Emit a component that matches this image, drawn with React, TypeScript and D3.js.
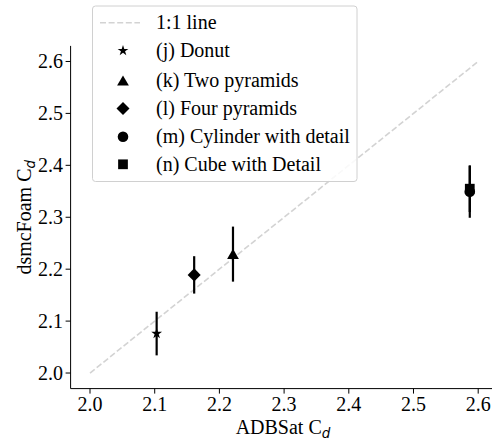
import React from "react";
import * as d3 from "d3";

// Drag coefficient comparison: ADBSat vs dsmcFoam
const labels = [
  "(j) Donut",
  "(k) Two pyramids",
  "(l) Four pyramids",
  "(m) Cylinder with detail",
  "(n) Cube with Detail",
];
const shapes = ["star", "triangle", "diamond", "circle", "square"];
const adbsatCd = [2.103, 2.221, 2.161, 2.587, 2.587];
const dsmcCd = [2.076, 2.229, 2.189, 2.349, 2.355];
const dsmcErr = [0.042, 0.053, 0.036, 0.05, 0.045];
const xTicks = [2.0, 2.1, 2.2, 2.3, 2.4, 2.5, 2.6];
const yTicks = [2.0, 2.1, 2.2, 2.3, 2.4, 2.5, 2.6];
const identity = [2.0, 2.6];

const W = 492;
const H = 443;
const FONT = "Liberation Serif, Times New Roman, DejaVu Serif, serif";
const FS = 20;

const x = d3.scaleLinear().domain([1.97, 2.63]).range([70.6, 497.6]);
const y = d3.scaleLinear().domain([1.97, 2.63]).range([388.6, 45.9]);

const symbolFor: Record<string, { type: d3.SymbolType; size: number }> = {
  star: { type: d3.symbolStar, size: 36 },
  triangle: { type: d3.symbolTriangle, size: 60 },
  diamond: { type: d3.symbolSquare, size: 85 },
  circle: { type: d3.symbolCircle, size: 88 },
  square: { type: d3.symbolSquare, size: 95 },
};

function Marker({ shape, cx, cy }: { shape: string; cx: number; cy: number }) {
  const s = symbolFor[shape];
  const path = d3.symbol().type(s.type).size(s.size)() || "";
  const rot = shape === "diamond" ? 45 : 0;
  const dy = shape === "triangle" ? 1.5 : 0;
  return (
    <path
      d={path}
      transform={`translate(${cx},${cy + dy}) rotate(${rot})`}
      fill="#000"
    />
  );
}

function Cd({ prefix }: { prefix: string }) {
  return (
    <>
      {prefix}C
      <tspan
        style={{ fontFamily: "DejaVu Sans, sans-serif", fontStyle: "italic", fontSize: 13.5 }}
        dy={4}
      >
        d
      </tspan>
    </>
  );
}

export default function App() {
  const axisBottom = y.range()[0];
  const axisLeft = x.range()[0];
  const legendRows = [22.7, 50.7, 80.7, 108.5, 136.7, 164.3];
  const txt = { fontFamily: FONT, fontSize: FS };
  return (
    <svg
      width={W}
      height={H}
      style={{ position: "absolute", left: 0, top: 0, background: "#fff", fontFamily: FONT }}
    >
      {/* 1:1 reference line */}
      <line
        x1={x(identity[0])}
        y1={y(identity[0])}
        x2={x(identity[1])}
        y2={y(identity[1])}
        stroke="#d3d3d3"
        strokeWidth={1.6}
        strokeDasharray="6,2.6"
      />

      {/* error bars and markers */}
      {adbsatCd.map((v, i) => (
        <g key={labels[i]}>
          <line
            x1={x(v)}
            x2={x(v)}
            y1={y(dsmcCd[i] - dsmcErr[i])}
            y2={y(dsmcCd[i] + dsmcErr[i])}
            stroke="#000"
            strokeWidth={2.2}
          />
          <Marker shape={shapes[i]} cx={x(v)} cy={y(dsmcCd[i])} />
        </g>
      ))}

      {/* axes */}
      <line x1={axisLeft} x2={axisLeft} y1={y.range()[1]} y2={axisBottom} stroke="#000" strokeWidth={1} />
      <line x1={axisLeft} x2={W} y1={axisBottom} y2={axisBottom} stroke="#000" strokeWidth={1} />
      {xTicks.map((t) => (
        <g key={`x${t}`}>
          <line x1={x(t)} x2={x(t)} y1={axisBottom} y2={axisBottom + 5} stroke="#000" />
          <text x={x(t)} y={411} textAnchor="middle" style={txt}>
            {t.toFixed(1)}
          </text>
        </g>
      ))}
      {yTicks.map((t) => (
        <g key={`y${t}`}>
          <line x1={axisLeft - 5} x2={axisLeft} y1={y(t)} y2={y(t)} stroke="#000" />
          <text x={axisLeft - 7.5} y={y(t) + 6.7} textAnchor="end" style={txt}>
            {t.toFixed(1)}
          </text>
        </g>
      ))}
      <text x={283} y={434} textAnchor="middle" style={txt}>
        <Cd prefix="ADBSat " />
      </text>
      <text
        transform={`translate(31,${(axisBottom + y.range()[1]) / 2}) rotate(-90)`}
        textAnchor="middle"
        style={txt}
      >
        <Cd prefix="dsmcFoam " />
      </text>

      {/* legend */}
      <rect
        x={92.5}
        y={6}
        width={264.5}
        height={175.5}
        rx={3}
        fill="#fff"
        fillOpacity={0.85}
        stroke="#d0d0d0"
        strokeWidth={1}
      />
      <line
        x1={100}
        x2={140}
        y1={legendRows[0]}
        y2={legendRows[0]}
        stroke="#d3d3d3"
        strokeWidth={1.6}
        strokeDasharray="6,2.6"
      />
      <text x={156} y={legendRows[0] + 6.5} style={txt}>
        1:1 line
      </text>
      {labels.map((lab, i) => (
        <g key={`lg${lab}`}>
          <Marker shape={shapes[i]} cx={123} cy={legendRows[i + 1]} />
          <text x={156} y={legendRows[i + 1] + 6.5} style={txt}>
            {lab}
          </text>
        </g>
      ))}
    </svg>
  );
}
